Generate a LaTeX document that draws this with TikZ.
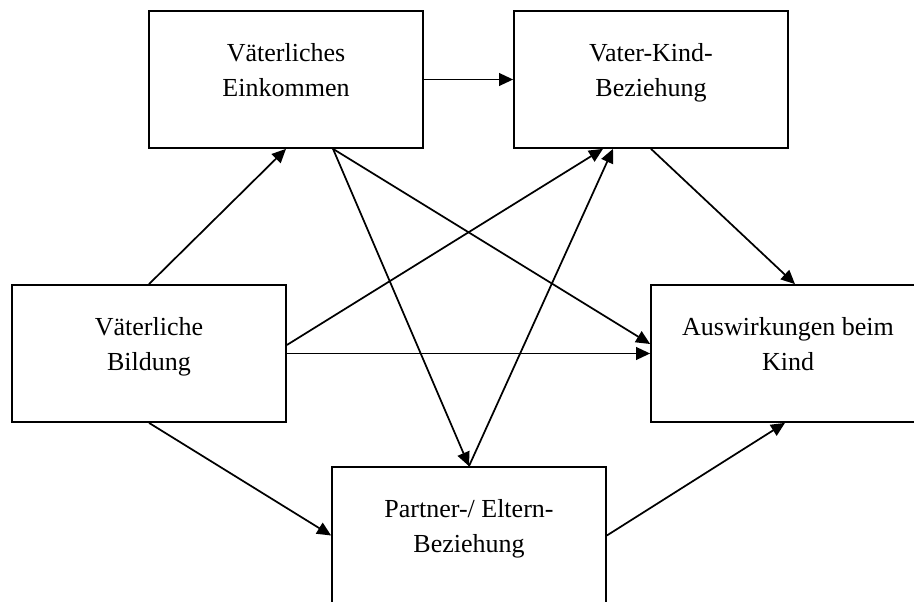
\documentclass[tikz,border=0pt]{standalone}
\usepackage{fontspec}
\setmainfont{Liberation Serif}
\usetikzlibrary{arrows.meta,calc}
\begin{document}
\begin{tikzpicture}[x=0.75pt,y=-0.75pt,
  box/.style={draw,line width=1.3pt,minimum width=205.5pt,minimum height=102.75pt,inner sep=0pt},
  lbl/.style={anchor=base,inner sep=0pt,font=\fontsize{19.5}{26.25}\selectfont},
  arr/.style={line width=1.3pt,-{Triangle[length=10.5pt,width=9.5pt]}}]
\useasboundingbox (0,0) rectangle (914,602);
\fill[white] (0,0) rectangle (914,602);
\begin{scope}
\clip (0,0) rectangle (914,602);
\node[box] (A) at (286,79.5) {};
\node[box] (B) at (651,79.5) {};
\node[box] (C) at (149,353.5) {};
\node[box] (D) at (788,353.5) {};
\node[box] (E) at (469,535.5) {};
\node[lbl] (tA) at (286,62) {\begin{tabular}[t]{@{}c@{}}Väterliches\\Einkommen\end{tabular}};
\node[lbl] (tB) at (651,62) {\begin{tabular}[t]{@{}c@{}}Vater-Kind-\\Beziehung\end{tabular}};
\node[lbl] (tC) at (149,335) {\begin{tabular}[t]{@{}c@{}}Väterliche\\Bildung\end{tabular}};
\node[lbl] (tD) at (788,335) {\begin{tabular}[t]{@{}c@{}}Auswirkungen beim\\Kind\end{tabular}};
\node[lbl] (tE) at (469,517) {\begin{tabular}[t]{@{}c@{}}Partner-/ Eltern-\\Beziehung\end{tabular}};
\draw[arr] (A.east) -- (B.west);
\draw[arr] (C.north) -- (A.south);
\draw[arr] ($(A.south)+(47,0)$) -- ($(D.west)+(0,-9.5)$);
\draw[arr] ($(A.south)+(47,0)$) -- (E.north);
\draw[arr] (E.north) -- ($(B.south)+(-38,0)$);
\draw[arr] ($(C.east)+(0,-8.5)$) -- ($(B.south)+(-48,0)$);
\draw[arr] (C.east) -- (D.west);
\draw[arr] (B.south) -- ($(D.north)+(7,0)$);
\draw[arr] (C.south) -- (E.west);
\draw[arr] (E.east) -- ($(D.south)+(-3,0)$);
\end{scope}
\end{tikzpicture}
\end{document}
